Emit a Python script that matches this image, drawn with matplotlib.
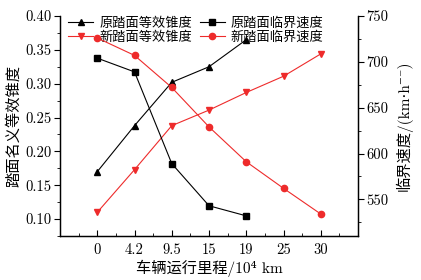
import matplotlib
matplotlib.use("Agg")
import matplotlib.pyplot as plt
from matplotlib.ticker import MultipleLocator, FixedLocator
import numpy as np

plt.rcParams["font.family"] = ["cmr10", "DejaVu Serif", "Noto Sans CJK SC"]
plt.rcParams["axes.formatter.use_mathtext"] = True

mileage_labels = ["0", "4.2", "9.5", "15", "19", "25", "30"]

old_conicity = [0.170, 0.238, 0.302, 0.325, 0.365]
new_conicity = [0.110, 0.173, 0.238, 0.261, 0.287, 0.311, 0.344]
old_speed = [704, 689, 589, 543, 532]
new_speed = [726, 707, 672, 629, 591, 562, 534]

red = "#ee2b2b"
fs_tick = 10.5
fs_leg = 9.5
fs_lab = 11

fig = plt.figure(figsize=(4.21, 2.80), dpi=100)
ax1 = fig.add_axes([0.1425, 0.157, 0.708, 0.786])
ax2 = ax1.twinx()

x_old = np.arange(len(old_conicity))
x_new = np.arange(len(new_conicity))

l1, = ax1.plot(x_old, old_conicity, color="k", marker="^", markersize=4.5, linewidth=0.8, label="原踏面等效锥度")
l2, = ax1.plot(x_new, new_conicity, color=red, marker="v", markersize=4.5, linewidth=0.8, label="新踏面等效锥度")
l3, = ax2.plot(x_old, old_speed, color="k", marker="s", markersize=4, linewidth=0.8, label="原踏面临界速度")
l4, = ax2.plot(x_new, new_speed, color=red, marker="o", markersize=4.5, linewidth=0.8, label="新踏面临界速度")

ax1.set_xlim(-1, 7)
ax1.set_ylim(0.075, 0.40)
ax2.set_ylim(510, 750)

ax1.set_xticks(range(len(mileage_labels)))
ax1.set_xticklabels(mileage_labels)
ax1.xaxis.set_minor_locator(FixedLocator(np.arange(-0.5, 7, 1.0)))
ax1.yaxis.set_major_locator(FixedLocator([0.10, 0.15, 0.20, 0.25, 0.30, 0.35, 0.40]))
ax1.yaxis.set_minor_locator(MultipleLocator(0.025))
ax1.set_yticklabels(["0.10", "0.15", "0.20", "0.25", "0.30", "0.35", "0.40"])
ax2.yaxis.set_major_locator(FixedLocator([550, 600, 650, 700, 750]))
ax2.yaxis.set_minor_locator(MultipleLocator(25))
ax2.set_yticklabels(["550", "600", "650", "700", "750"])

ax1.tick_params(axis="x", which="both", direction="in", labelsize=fs_tick, pad=5)
ax1.tick_params(axis="x", which="major", length=4, width=0.8)
ax1.tick_params(axis="x", which="minor", length=2, width=0.6)
ax1.tick_params(axis="y", which="major", direction="out", length=4, width=0.8, labelsize=fs_tick, pad=2)
ax1.tick_params(axis="y", which="minor", direction="out", length=2, width=0.6)
ax2.tick_params(axis="y", which="major", direction="out", length=4, width=0.8, labelsize=fs_tick, pad=2)
ax2.tick_params(axis="y", which="minor", direction="out", length=2, width=0.6)

for ax in (ax1, ax2):
    ax.spines["top"].set_visible(False)
    for s in ("left", "right", "bottom"):
        ax.spines[s].set_linewidth(0.9)

ax1.set_xlabel("车辆运行里程/10⁴ km", fontsize=fs_lab, labelpad=2)
ax1.set_ylabel("踏面名义等效锥度", fontsize=fs_lab, labelpad=3)
ax2.set_ylabel("临界速度/(km·h⁻¹)", fontsize=fs_lab, labelpad=5)

leg = ax1.legend(handles=[l1, l2, l3, l4], ncol=2, loc="upper left",
                 bbox_to_anchor=(0.027, 0.995), frameon=False, fontsize=fs_leg,
                 handlelength=1.9, handletextpad=0.45, columnspacing=0.6,
                 labelspacing=0.15, borderpad=0.0, borderaxespad=0.0)

fig.savefig("out.png", dpi=100)
